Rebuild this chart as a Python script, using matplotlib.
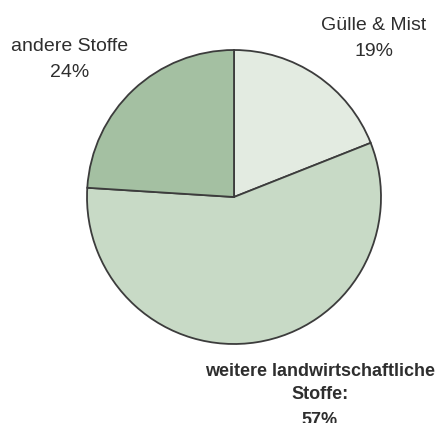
import matplotlib.pyplot as plt

# -----------------------------
# Data
# -----------------------------
labels = ["Gülle & Mist", "weitere landwirtschaftliche\nStoffe:", "andere Stoffe"]
shares = [19, 57, 24]
colors = ["#e3ebe1", "#c8dac6", "#a4c0a2"]

W, H = 437, 423

fig = plt.figure(figsize=(W / 100, H / 100), dpi=100)
ax = fig.add_axes([0, 0, 1, 1])

ax.pie(
    shares,
    colors=colors,
    startangle=90,
    counterclock=False,
    center=(234, H - 197),
    radius=147,
    wedgeprops=dict(edgecolor="#3c3c3c", linewidth=1.3),
    frame=True,
)
ax.set_xlim(0, W)
ax.set_ylim(0, H)
ax.set_aspect("equal")
ax.axis("off")

font = "Liberation Sans"
txt = dict(ha="center", va="baseline", family=font, color="#2e2e2e")

# top right label
ax.text(374, H - 30, labels[0], fontsize=14, **txt)
ax.text(374, H - 56, f"{shares[0]}%", fontsize=14, **txt)

# top left label
ax.text(70, H - 51, labels[2], fontsize=14, **txt)
ax.text(70, H - 77, f"{shares[2]}%", fontsize=14, **txt)

# bottom label
line1, line2 = labels[1].split("\n")
ax.text(320, H - 376, line1, fontsize=13, fontweight="bold", **txt)
ax.text(320, H - 399, line2, fontsize=13, fontweight="bold", **txt)
ax.text(320, H - 425, f"{shares[1]}%", fontsize=13, fontweight="bold", **txt)

fig.savefig("out.png", dpi=100)
